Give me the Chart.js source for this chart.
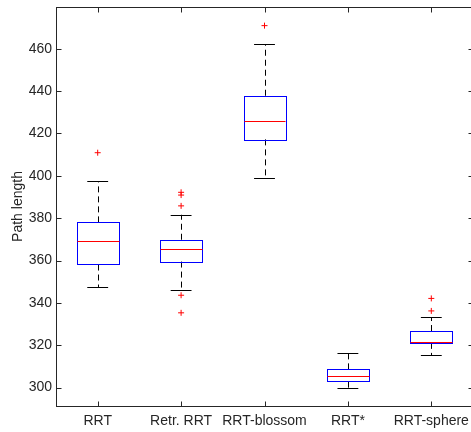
<!DOCTYPE html>
<html>
<head>
<meta charset="utf-8">
<script src="https://cdn.jsdelivr.net/npm/chart.js@4/dist/chart.umd.min.js"></script>
<style>
  html, body { margin: 0; padding: 0; background: #fff; overflow: hidden; }
  canvas { display: block; }
</style>
</head>
<body>
<canvas id="chart" width="478" height="432"></canvas>
<script>
        // Box plot data
        const categories = ['RRT', 'Retr. RRT', 'RRT-blossom', 'RRT*', 'RRT-sphere'];
        const lowerWhisker = [347.5, 346.0, 399.1, 299.7, 315.3];
        const q1 = [358.1, 359.5, 417.2, 302.8, 321.1];
        const medians = [369.0, 365.2, 426.0, 305.7, 321.3];
        const q3 = [378.0, 369.8, 437.8, 308.6, 326.7];
        const upperWhisker = [397.5, 381.6, 462.1, 316.1, 333.1];
        const outliers = [
            [410.9],
            [392.2, 390.9, 385.8, 343.6, 335.3],
            [470.9],
            [],
            [342.1, 336.2]
        ];
        const yTicks = [300, 320, 340, 360, 380, 400, 420, 440, 460];
        const yMin = 291.3;
        const yMax = 479.7;

        const axisColor = '#262626';
        const fontFamily = "'Liberation Sans', Arial, Helvetica, sans-serif";

        // Scatter points for the outliers
        const outlierPoints = [];
        outliers.forEach((list, i) => {
            list.forEach(v => outlierPoints.push({ x: i + 1, y: v }));
        });

        const px = v => Math.round(v) + 0.5;

        const boxPlugin = {
            id: 'boxes',
            beforeDatasetsDraw(chart) {
                const ctx = chart.ctx;
                const xs = chart.scales.x;
                const ys = chart.scales.y;
                ctx.save();
                ctx.lineWidth = 1;
                categories.forEach((c, i) => {
                    const xc = xs.getPixelForValue(i + 1);
                    const bl = xs.getPixelForValue(i + 1 - 0.25);
                    const br = xs.getPixelForValue(i + 1 + 0.25);
                    const cl = xs.getPixelForValue(i + 1 - 0.125);
                    const cr = xs.getPixelForValue(i + 1 + 0.125);
                    const yq1 = ys.getPixelForValue(q1[i]);
                    const yq3 = ys.getPixelForValue(q3[i]);
                    const ymed = ys.getPixelForValue(medians[i]);
                    const ylo = ys.getPixelForValue(lowerWhisker[i]);
                    const yhi = ys.getPixelForValue(upperWhisker[i]);

                    // dashed whiskers
                    ctx.strokeStyle = '#000';
                    ctx.setLineDash([6, 4]);
                    ctx.beginPath();
                    ctx.moveTo(px(xc), yq3);
                    ctx.lineTo(px(xc), yhi);
                    ctx.moveTo(px(xc), yq1);
                    ctx.lineTo(px(xc), ylo);
                    ctx.stroke();

                    // caps
                    ctx.setLineDash([]);
                    ctx.beginPath();
                    ctx.moveTo(cl, px(yhi));
                    ctx.lineTo(cr, px(yhi));
                    ctx.moveTo(cl, px(ylo));
                    ctx.lineTo(cr, px(ylo));
                    ctx.stroke();

                    // box
                    ctx.strokeStyle = '#0000ff';
                    ctx.strokeRect(px(bl), px(yq3), Math.round(br - bl), Math.round(yq1 - yq3));

                    // median
                    ctx.strokeStyle = '#ff0000';
                    ctx.beginPath();
                    ctx.moveTo(px(bl), px(ymed));
                    ctx.lineTo(px(br), px(ymed));
                    ctx.stroke();
                });
                ctx.restore();
            },
            afterDraw(chart) {
                // axes frame with inward ticks
                const ctx = chart.ctx;
                const a = chart.chartArea;
                const xs = chart.scales.x;
                const ys = chart.scales.y;
                const L = px(a.left), R = px(a.right), T = px(a.top), B = px(a.bottom);
                ctx.save();
                ctx.strokeStyle = axisColor;
                ctx.lineWidth = 1;
                ctx.strokeRect(L, T, R - L, B - T);
                ctx.beginPath();
                categories.forEach((c, i) => {
                    const x = px(xs.getPixelForValue(i + 1));
                    ctx.moveTo(x, B); ctx.lineTo(x, B - 5);
                    ctx.moveTo(x, T); ctx.lineTo(x, T + 5);
                });
                yTicks.forEach(v => {
                    const y = px(ys.getPixelForValue(v));
                    ctx.moveTo(L, y); ctx.lineTo(L + 5, y);
                    ctx.moveTo(R, y); ctx.lineTo(R - 5, y);
                });
                ctx.stroke();
                ctx.restore();
            }
        };

        const ctx = document.getElementById('chart').getContext('2d');
        new Chart(ctx, {
            type: 'scatter',
            data: {
                datasets: [{
                    label: 'Outliers',
                    data: outlierPoints,
                    pointStyle: 'cross',
                    radius: 3,
                    borderColor: '#ff0000',
                    backgroundColor: '#ff0000',
                    borderWidth: 1
                }]
            },
            options: {
                responsive: false,
                animation: false,
                layout: { padding: { top: 7, right: 1, left: 0, bottom: 0 } },
                plugins: {
                    legend: { display: false },
                    tooltip: { enabled: false }
                },
                scales: {
                    x: {
                        type: 'linear',
                        min: 0.5,
                        max: 5.5,
                        afterBuildTicks: scale => {
                            scale.ticks = categories.map((c, i) => ({ value: i + 1 }));
                        },
                        afterFit: scale => {
                            scale.height = 26;
                            scale.paddingLeft = 0;
                            scale.paddingRight = 0;
                        },
                        grid: { display: false, drawTicks: false },
                        border: { display: false },
                        ticks: {
                            autoSkip: false,
                            maxRotation: 0,
                            padding: 7,
                            color: axisColor,
                            font: { family: fontFamily, size: 14 },
                            callback: value => categories[value - 1]
                        }
                    },
                    y: {
                        min: yMin,
                        max: yMax,
                        afterBuildTicks: scale => {
                            scale.ticks = yTicks.map(v => ({ value: v }));
                        },
                        afterFit: scale => {
                            scale.width = 56;
                            scale.paddingTop = 0;
                            scale.paddingBottom = 0;
                        },
                        grid: { display: false, drawTicks: false },
                        border: { display: false },
                        ticks: {
                            padding: 4,
                            color: axisColor,
                            font: { family: fontFamily, size: 14 }
                        },
                        title: {
                            display: true,
                            text: 'Path length',
                            color: axisColor,
                            font: { family: fontFamily, size: 14 },
                            padding: { top: 10, bottom: 0 }
                        }
                    }
                }
            },
            plugins: [boxPlugin]
        });
</script>
</body>
</html>
